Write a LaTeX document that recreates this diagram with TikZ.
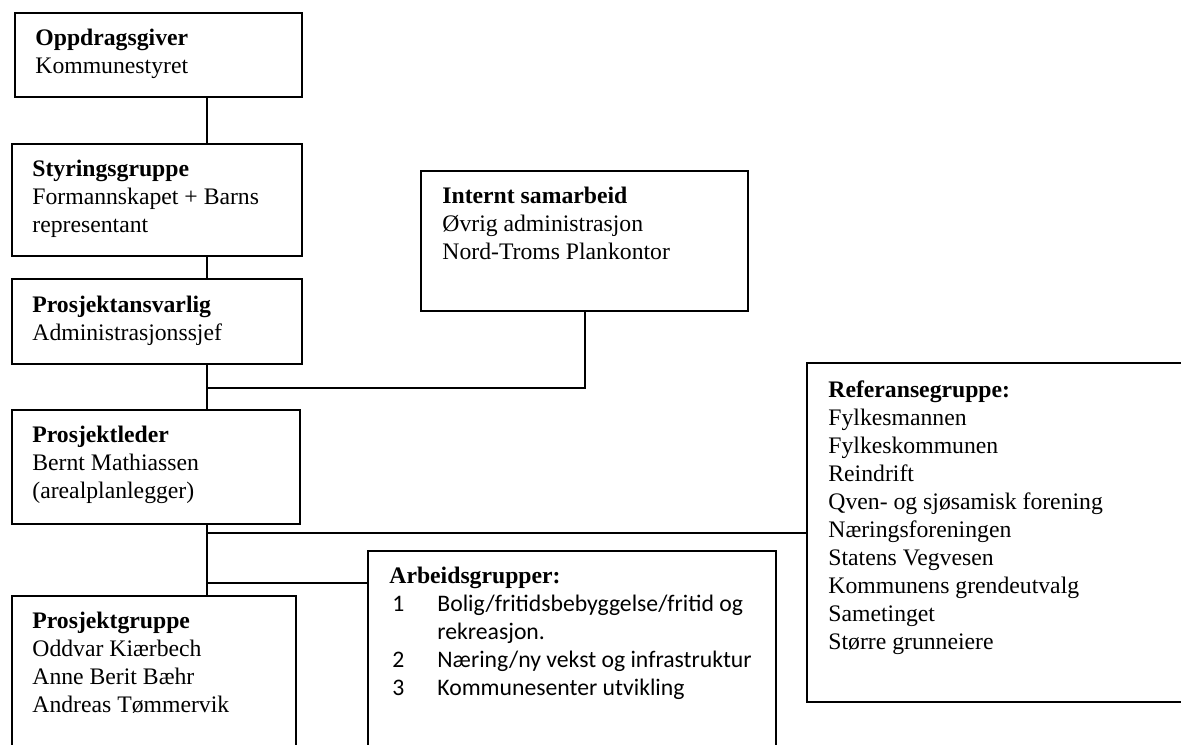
\documentclass[tikz,border=0pt]{standalone}
\usepackage{fontspec}
\setmainfont{Liberation Serif}
\newfontfamily\calibrifont{Carlito}
\usetikzlibrary{fit}
\tikzset{
  box/.style={draw, line width=1pt, inner sep=0pt},
  conn/.style={draw, line width=1pt},
  txt/.style={anchor=base west, inner sep=0pt, font=\fontsize{11.85}{14}\selectfont}
}
\newcommand{\blk}[1]{\begin{tabular}[t]{@{}l@{}}#1\end{tabular}}
\newcommand{\itm}[2]{\makebox[24pt][l]{\calibrifont #1}{\calibrifont #2}}
\begin{document}
\begin{tikzpicture}[x=0.5pt,y=-0.5pt]
\path[use as bounding box, clip] (0,0) rectangle (1181,744);
% boxes
\node[box, fit={(15,13) (302,97)}] (b1) {};
\node[box, fit={(12,144) (302,256)}] (b2) {};
\node[box, fit={(12,279) (302,364)}] (b3) {};
\node[box, fit={(12,410) (300,524)}] (b4) {};
\node[box, fit={(12,596) (296,770)}] (b5) {};
\node[box, fit={(421,171) (748,311)}] (bi) {};
\node[box, fit={(368,551) (776,770)}] (ba) {};
\node[box, fit={(807,363) (1210,702)}] (br) {};
% texts
\node[txt] (t1) at (35,45) {\blk{\textbf{Oppdragsgiver}\\Kommunestyret}};
\node[txt] (t2) at (32,176) {\blk{\textbf{Styringsgruppe}\\Formannskapet + Barns\\representant}};
\node[txt] (t3) at (32,312) {\blk{\textbf{Prosjektansvarlig}\\Administrasjonssjef}};
\node[txt] (t4) at (32,442) {\blk{\textbf{Prosjektleder}\\Bernt Mathiassen\\(arealplanlegger)}};
\node[txt] (t5) at (32,628) {\blk{\textbf{Prosjektgruppe}\\Oddvar Kiærbech\\Anne Berit Bæhr\\Andreas Tømmervik}};
\node[txt] (ti) at (442,203) {\blk{\textbf{Internt samarbeid}\\Øvrig administrasjon\\Nord-Troms Plankontor}};
\node[txt] (ta) at (389,583) {\blk{\textbf{Arbeidsgrupper:}\\
\itm{\hspace{1.5pt}1}{Bolig/fritidsbebyggelse/fritid og}\\
\itm{}{rekreasjon.}\\
\itm{\hspace{1.5pt}2}{Næring/ny vekst og infrastruktur}\\
\itm{\hspace{1.5pt}3}{Kommunesenter utvikling}}};
\node[txt] (tr) at (828,397) {\blk{\textbf{Referansegruppe:}\\Fylkesmannen\\Fylkeskommunen\\Reindrift\\Qven- og sjøsamisk forening\\Næringsforeningen\\Statens Vegvesen\\Kommunens grendeutvalg\\Sametinget\\Større grunneiere}};
% connectors
\coordinate (tx) at (207,0);
\coordinate (j1) at (207,388);
\coordinate (j2) at (207,533);
\coordinate (j3) at (207,583);
\draw[conn] (b1.south -| tx) -- (b2.north -| tx);
\draw[conn] (b2.south -| tx) -- (b3.north -| tx);
\draw[conn] (b3.south -| tx) -- (b4.north -| tx);
\draw[conn] (b4.south -| tx) -- (b5.north -| tx);
\draw[conn] (j1) -- (j1 -| bi.south) -- (bi.south);
\draw[conn] (j2) -- (j2 -| br.west);
\draw[conn] (j3) -- (j3 -| ba.west);
\end{tikzpicture}
\end{document}
